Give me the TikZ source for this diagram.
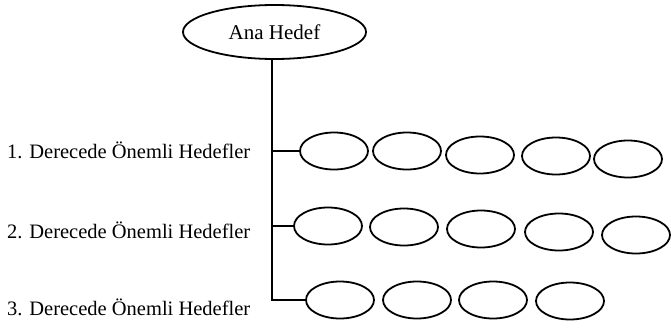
\documentclass[tikz,border=0pt]{standalone}
\usepackage{fontspec}
\setmainfont{Liberation Serif}
\usetikzlibrary{shapes.geometric}
\begin{document}
\begin{tikzpicture}[x=1pt,y=-1pt,
  goal/.style={draw,ellipse,line width=1.8pt,minimum width=68pt,minimum height=37pt,inner sep=0pt},
  conn/.style={line width=1.8pt},
  lvl/.style={anchor=base west,inner sep=0pt,font=\fontsize{20.5}{22}\selectfont}]
\useasboundingbox (0,0) rectangle (671,329);
\node[draw,ellipse,line width=1.8pt,minimum width=183pt,minimum height=54pt,inner sep=0pt,font=\fontsize{21}{24}\selectfont] (main) at (274.5,32) {Ana Hedef};
\coordinate (top) at (272,59);
% row 1
\node[goal] (a1) at (334,151) {};
\node[goal] (a2) at (407,151) {};
\node[goal] (a3) at (480,155) {};
\node[goal] (a4) at (556,156) {};
\node[goal] (a5) at (628,159) {};
% row 2
\node[goal] (b1) at (328,226) {};
\node[goal] (b2) at (404,227) {};
\node[goal] (b3) at (481,229) {};
\node[goal] (b4) at (559,232) {};
\node[goal] (b5) at (636,235) {};
% row 3
\node[goal] (c1) at (340,300) {};
\node[goal] (c2) at (417,300) {};
\node[goal] (c3) at (493,300) {};
\node[goal] (c4) at (570,301) {};
\node[lvl] (l1) at (7,158) {1. Derecede Önemli Hedefler};
\node[lvl] (l2) at (7,238) {2. Derecede Önemli Hedefler};
\node[lvl] (l3) at (7,315) {3. Derecede Önemli Hedefler};
\draw[conn] (top) |- (c1.west);
\draw[conn] (top |- a1.west) -- (a1.west);
\draw[conn] (top |- b1.west) -- (b1.west);
\end{tikzpicture}
\end{document}
